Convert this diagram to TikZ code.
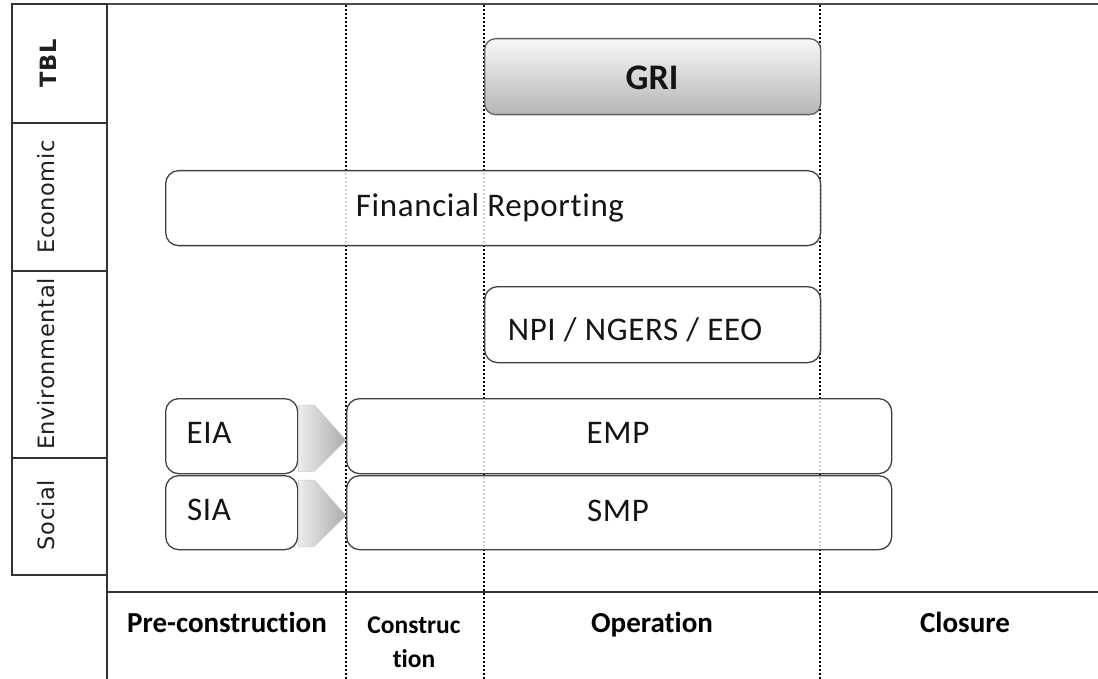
\documentclass[tikz,border=0pt]{standalone}
\usepackage{fontspec}
\setmainfont{Carlito}[Ligatures=NoCommon]
\newfontfamily\dejavu{DejaVu Sans}[LetterSpace=3]
\newfontfamily\boxfont{Carlito}[Ligatures=NoCommon, LetterSpace=2]
\usetikzlibrary{calc}
\tikzset{
  frame/.style={draw=black!80, line width=1.5pt},
  phaseline/.style={draw=black, line width=1.6pt, dash pattern=on 1.8pt off 2.2pt},
  box/.style={draw=black!75, line width=1.3pt, rounded corners=13pt, fill=white, fill opacity=0.82, inner sep=0pt, anchor=north west},
  lbl/.style={font=\boxfont\fontsize{33}{38}\selectfont, anchor=base, inner sep=0pt, text=black!92},
  side/.style={font=\dejavu\fontsize{22.5}{26}\selectfont, rotate=90, anchor=base, inner sep=0pt, text=black!88},
  phaselbl/.style={font=\bfseries\fontsize{29}{33}\selectfont, anchor=base, inner sep=0pt, text=black},
  chev/.style={left color=gray!15, right color=gray!65, draw=gray!40, line width=0.5pt},
}
\begin{document}
\begin{tikzpicture}[x=1pt,y=-1pt]
\useasboundingbox (0,0) rectangle (1098,679);
% phase separators (dotted)
\draw[phaseline] (346,5) -- (346,679);
\draw[phaseline] (484,5) -- (484,679);
\draw[phaseline] (820,5) -- (820,679);
% frame
\draw[frame, line width=2.2pt, draw=black!70] (12,4) -- (1098,4);
\draw[frame] (12,4) rectangle (107,575);
\draw[frame] (12,123) -- (107,123);
\draw[frame] (12,271) -- (107,271);
\draw[frame] (12,458) -- (107,458);
\draw[frame] (107,4) -- (107,679);
\draw[frame] (107,592) -- (1098,592);
% side labels
\node[side, font=\dejavu\bfseries\fontsize{22.5}{26}\selectfont] (tbl) at (56,63) {TBL};
\node[side] (eco) at (54,197) {Economic};
\node[side] (env) at (54,364) {Environmental};
\node[side] (soc) at (54,515) {Social};
% boxes
\node[box, fill opacity=1, top color=gray!6, bottom color=gray!58, draw=gray!75!black, rounded corners=11pt,
      minimum width=336pt, minimum height=76pt] (gri) at (484,38) {};
\node[box, minimum width=655pt, minimum height=75pt] (fin) at (165,170) {};
\node[box, minimum width=336pt, minimum height=76pt] (npi) at (484,286) {};
\node[box, minimum width=132pt, minimum height=75pt] (eia) at (165,398) {};
\node[box, minimum width=132pt, minimum height=74pt] (sia) at (165,475) {};
\node[box, minimum width=545pt, minimum height=75pt] (emp) at (346,398) {};
\node[box, minimum width=545pt, minimum height=74pt] (smp) at (346,475) {};
% chevron arrows
\path[chev] ($(eia.north east)+(0,7)$) -- ++(16,0) -- ($(emp.west)+(0,4)$)
  -- ($(eia.south east)+(16,-3)$) -- ($(eia.south east)+(0,-3)$) -- cycle;
\path[chev] ($(sia.north east)+(0,5)$) -- ++(16,0) -- ($(smp.west)+(0,3)$)
  -- ($(sia.south east)+(16,-4)$) -- ($(sia.south east)+(0,-4)$) -- cycle;
% box texts
\node[lbl, font=\bfseries\fontsize{36}{40}\selectfont] (gritxt) at (652,90) {GRI};
\node[lbl] (fintxt) at (490,217) {Financial Reporting};
\node[lbl] (npitxt) at (635,340) {NPI / NGERS / EEO};
\node[lbl] (eiatxt) at (209,443) {EIA};
\node[lbl] (siatxt) at (209,520) {SIA};
\node[lbl] (emptxt) at (618,443) {EMP};
\node[lbl] (smptxt) at (618,521) {SMP};
% phase labels
\node[phaselbl] (pre) at (227,632) {Pre-construction};
\node[phaselbl, font=\bfseries\fontsize{25.5}{29}\selectfont] (con1) at (414,633) {Construc};
\node[phaselbl, font=\bfseries\fontsize{25.5}{29}\selectfont] (con2) at (414,667) {tion};
\node[phaselbl] (ope) at (652,632) {Operation};
\node[phaselbl] (clo) at (965,632) {Closure};
\end{tikzpicture}
\end{document}
